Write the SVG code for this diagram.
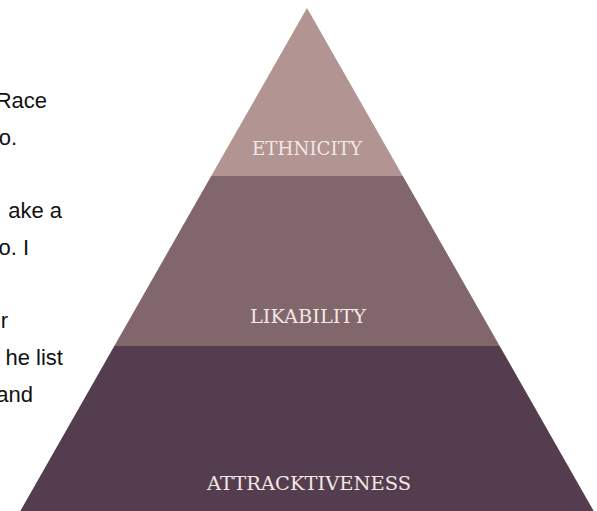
<svg xmlns="http://www.w3.org/2000/svg" width="597" height="511" viewBox="0 0 597 511">
<style>
.body{font-family:"Liberation Sans",Arial,sans-serif;font-size:22px;fill:#111111;text-anchor:end}
.lab{font-family:"DejaVu Serif","Liberation Serif",serif;font-size:19px;fill:#f3e8e6;text-anchor:middle}
</style>
<rect width="597" height="511" fill="#ffffff"/>
<g id="text">
<text class="body" x="47" y="108">Race</text>
<text class="body" x="17" y="145">o.</text>
<text class="body" x="62" y="218">ake a</text>
<text class="body" x="29" y="255">o. I</text>
<text class="body" x="8" y="328">r</text>
<text class="body" x="63" y="365">he list</text>
<text class="body" x="33" y="402">and</text>
<text class="body" x="69" y="438">.</text>
</g>
<g id="ethnicity">
<polygon points="307,8 402.8,176 211.2,176" fill="#b29592"/>
<text class="lab" x="307" y="155" textLength="110" lengthAdjust="spacingAndGlyphs">ETHNICITY</text>
</g>
<g id="likability">
<polygon points="211.2,176 402.8,176 499.7,346 114.3,346" fill="#81676c"/>
<text class="lab" x="308" y="323" textLength="116" lengthAdjust="spacingAndGlyphs">LIKABILITY</text>
</g>
<g id="attracktiveness">
<polygon points="114.3,346 499.7,346 598.8,520 15.2,520" fill="#543d4f"/>
<text class="lab" x="309" y="490" textLength="204" lengthAdjust="spacingAndGlyphs">ATTRACKTIVENESS</text>
</g>
</svg>
